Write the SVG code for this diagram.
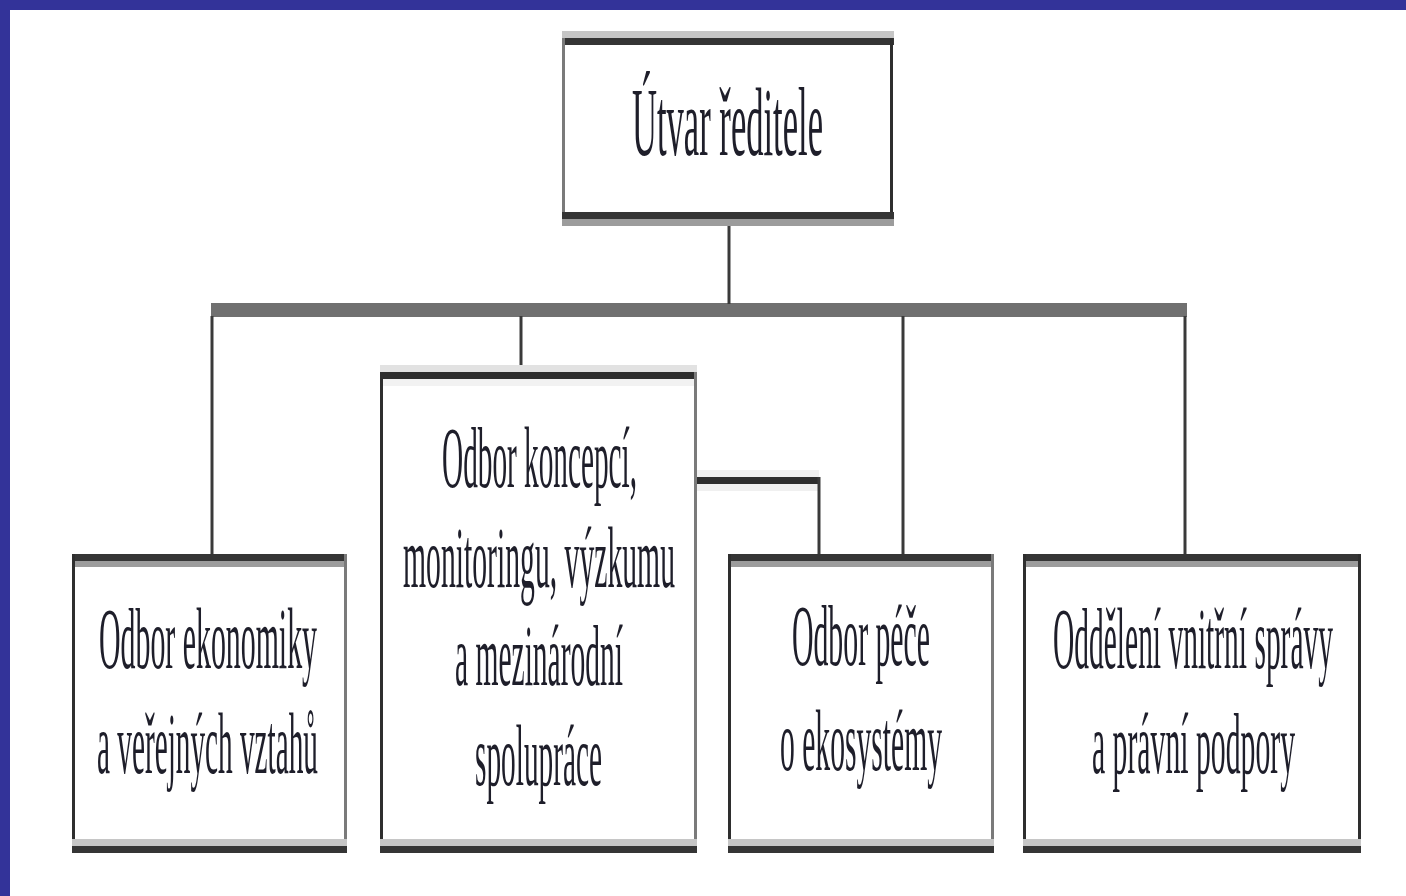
<svg xmlns="http://www.w3.org/2000/svg" width="1406" height="896" viewBox="0 0 1406 896">
<style>
.bg{fill:#ffffff}
.frame{fill:#333399}
.dark{fill:#353535}
.mid{fill:#9c9c9c}
.light{fill:#c6c6c6}
.pale{fill:#e2e2e2}
.sideD{fill:#2e2e2e}
.sideG{fill:#7a7a7a}
.bus{fill:#707070}
.wire{stroke:#3a3a3a;stroke-width:3;fill:none}
.lbl{font-family:"Liberation Serif","Times New Roman",serif;font-size:86px;fill:#1e1e2a;text-anchor:start}
.top{font-size:98px}
</style>
<rect class="bg" x="0" y="0" width="1406" height="896"/>
<rect class="frame" x="0" y="0" width="1406" height="10"/>
<rect class="frame" x="0" y="0" width="10" height="896"/>

<g id="connectors">
  <rect class="bus" x="211" y="303" width="976" height="14"/>
  <line class="wire" x1="729" y1="219" x2="729" y2="304"/>
  <line class="wire" x1="212" y1="316" x2="212" y2="555" stroke="#666"/>
  <line class="wire" x1="521" y1="316" x2="521" y2="373"/>
  <line class="wire" x1="903" y1="316" x2="903" y2="555"/>
  <line class="wire" x1="1185" y1="316" x2="1185" y2="555"/>
  <rect class="pale" x="697" y="470" width="122" height="21" opacity="0.5"/>
  <rect class="sideD" x="697" y="477" width="122" height="7"/>
  <line class="wire" x1="819" y1="477" x2="819" y2="555"/>
</g>

<g id="top-node">
  <rect class="bg" x="563" y="45" width="329" height="167"/>
  <rect class="light" x="562" y="31" width="332" height="7"/>
  <rect class="dark" x="562" y="38" width="332" height="7"/>
  <rect class="sideG" x="562" y="38" width="3" height="182"/>
  <rect class="sideD" x="890" y="38" width="3" height="182"/>
  <rect class="dark" x="562" y="212" width="332" height="7"/>
  <rect class="mid" x="562" y="219" width="332" height="7"/>
  <text class="lbl top" transform="translate(632,155) scale(0.36,1)" x="0" y="0" textLength="530.6" lengthAdjust="spacingAndGlyphs">Útvar ředitele</text>
</g>

<g id="node-ekonomika">
  <rect class="dark" x="72" y="554" width="275" height="7"/>
  <rect class="mid" x="72" y="561" width="275" height="6"/>
  <rect class="sideD" x="72" y="554" width="3" height="299"/>
  <rect class="sideG" x="344" y="554" width="3" height="299"/>
  <rect class="light" x="72" y="839" width="275" height="7"/>
  <rect class="dark" x="72" y="846" width="275" height="7"/>
  <text class="lbl" transform="translate(99,668) scale(0.36,1)" x="0" y="0" textLength="605.6" lengthAdjust="spacingAndGlyphs">Odbor ekonomiky</text>
  <text class="lbl" transform="translate(97,773) scale(0.36,1)" x="0" y="0" textLength="613.9" lengthAdjust="spacingAndGlyphs">a veřejných vztahů</text>
</g>

<g id="node-koncepce">
  <rect class="pale" x="380" y="365" width="317" height="7"/>
  <rect class="sideD" x="380" y="372" width="317" height="7"/>
  <rect fill="#f2f2f2" x="380" y="379" width="317" height="7"/>
  <rect class="sideD" x="380" y="372" width="3" height="481"/>
  <rect class="sideG" x="694" y="372" width="3" height="481"/>
  <rect class="light" x="380" y="839" width="317" height="7"/>
  <rect class="dark" x="380" y="846" width="317" height="7"/>
  <text class="lbl" transform="translate(442,487) scale(0.36,1)" x="0" y="0" textLength="541.7" lengthAdjust="spacingAndGlyphs">Odbor koncepcí,</text>
  <text class="lbl" transform="translate(403,587) scale(0.36,1)" x="0" y="0" textLength="755.6" lengthAdjust="spacingAndGlyphs">monitoringu, výzkumu</text>
  <text class="lbl" transform="translate(455,685) scale(0.36,1)" x="0" y="0" textLength="466.7" lengthAdjust="spacingAndGlyphs">a mezinárodní</text>
  <text class="lbl" transform="translate(475,785) scale(0.36,1)" x="0" y="0" textLength="352.8" lengthAdjust="spacingAndGlyphs">spolupráce</text>
</g>

<g id="node-ekosystemy">
  <rect class="dark" x="728" y="554" width="266" height="7"/>
  <rect class="mid" x="728" y="561" width="266" height="6"/>
  <rect class="sideD" x="728" y="554" width="3" height="299"/>
  <rect class="sideG" x="991" y="554" width="3" height="299"/>
  <rect class="light" x="728" y="839" width="266" height="7"/>
  <rect class="dark" x="728" y="846" width="266" height="7"/>
  <text class="lbl" transform="translate(792,665) scale(0.36,1)" x="0" y="0" textLength="383.3" lengthAdjust="spacingAndGlyphs">Odbor péče</text>
  <text class="lbl" transform="translate(780,770) scale(0.36,1)" x="0" y="0" textLength="450" lengthAdjust="spacingAndGlyphs">o ekosystémy</text>
</g>

<g id="node-sprava">
  <rect class="dark" x="1023" y="554" width="338" height="7"/>
  <rect class="mid" x="1023" y="561" width="338" height="6"/>
  <rect class="sideD" x="1023" y="554" width="3" height="299"/>
  <rect class="sideD" x="1358" y="554" width="3" height="299"/>
  <rect class="light" x="1023" y="839" width="338" height="7"/>
  <rect class="dark" x="1023" y="846" width="338" height="7"/>
  <text class="lbl" transform="translate(1053,668) scale(0.36,1)" x="0" y="0" textLength="777.8" lengthAdjust="spacingAndGlyphs">Oddělení vnitřní správy</text>
  <text class="lbl" transform="translate(1092,773) scale(0.36,1)" x="0" y="0" textLength="563.9" lengthAdjust="spacingAndGlyphs">a právní podpory</text>
</g>
</svg>
